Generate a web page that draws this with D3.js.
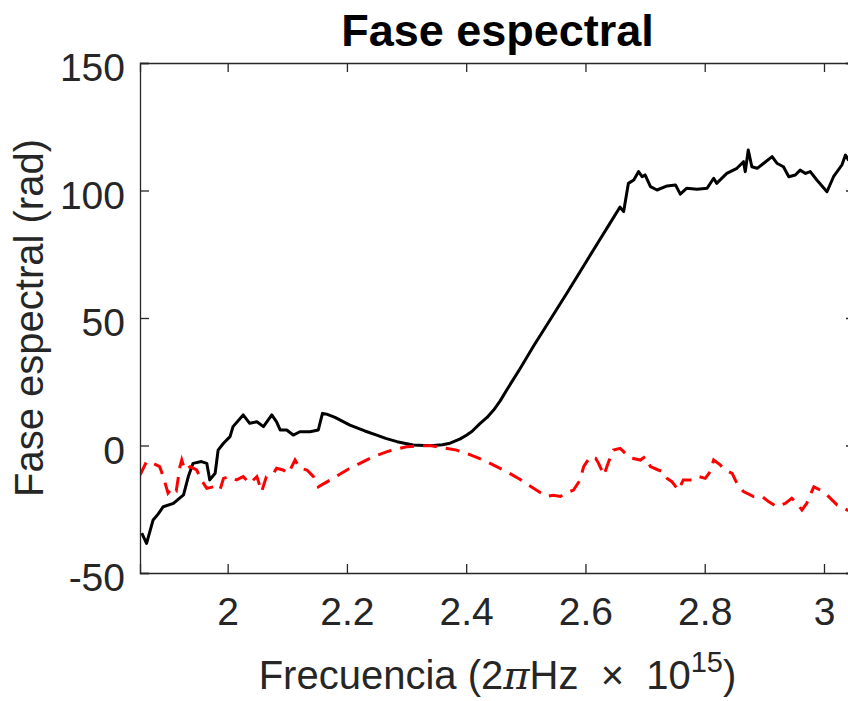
<!DOCTYPE html>
<html><head><meta charset="utf-8">
<script src="https://cdn.jsdelivr.net/npm/d3@7"></script>
<style>html,body{margin:0;padding:0;background:#fff;overflow:hidden}</style>
</head><body><div id="chart"></div>
<script>
const title = "Fase espectral";
const xLabelParts = ["Frecuencia (2", "π", "Hz \u00A0×\u00A0 10", "15", ")"];
const yLabel = "Fase espectral (rad)";
const xTicks = [2, 2.2, 2.4, 2.6, 2.8, 3];
const yTicks = [-50, 0, 50, 100, 150];
const xDomain = [1.853, 3.052];
const yDomain = [-50, 150];

const blackFreq = [1.856,1.864,1.875,1.883,1.892,1.909,1.926,1.934,1.942,1.956,1.965,1.970,1.979,1.984,1.993,2.004,2.009,2.026,2.037,2.049,2.060,2.074,2.082,2.088,2.099,2.110,2.121,2.138,2.152,2.159,2.166,2.180,2.205,2.230,2.250,2.265,2.284,2.311,2.330,2.345,2.360,2.373,2.390,2.401,2.410,2.423,2.435,2.446,2.457,2.468,2.490,2.513,2.540,2.569,2.600,2.625,2.641,2.658,2.664,2.672,2.681,2.689,2.695,2.700,2.709,2.720,2.737,2.751,2.759,2.770,2.787,2.804,2.815,2.820,2.837,2.854,2.865,2.868,2.873,2.879,2.888,2.899,2.913,2.921,2.932,2.941,2.952,2.960,2.969,2.977,2.988,3.005,3.016,3.030,3.036,3.041,3.061];
const blackPhase = [-34.4,-38.4,-29.2,-27,-24,-22.7,-19.4,-12.2,-7,-6.3,-7,-13.5,-10.9,-1.8,0.9,3.5,7.4,12,8.7,9.3,7.4,12,9.3,6.1,6.1,4.1,5.4,5.4,6.1,12.6,12.3,11.0,8.0,5.7,4.1,2.8,1.5,0.2,0,0,0.3,0.9,2.6,4.1,5.6,8.6,11.0,13.9,17.5,21.8,30.0,39.0,49.0,59.8,71.6,81.1,87.1,93.5,91.7,102.8,104.1,107.4,105.4,106.1,101.5,100.2,101.8,102.2,98.6,100.9,100.5,100.9,104.8,102.8,106.7,108.7,111.3,107.4,115.9,109.3,108.7,110.7,113.3,110.7,109.3,105.4,106.1,108,106.7,107.4,104.1,99.5,105.4,110,113.9,112,110];

const redFreq = [1.853,1.864,1.875,1.886,1.892,1.900,1.909,1.914,1.920,1.923,1.928,1.937,1.948,1.956,1.965,1.976,1.987,1.993,2.004,2.015,2.026,2.037,2.049,2.057,2.065,2.077,2.082,2.093,2.102,2.113,2.121,2.133,2.144,2.152,2.172,2.202,2.244,2.270,2.300,2.339,2.384,2.405,2.429,2.468,2.490,2.513,2.535,2.546,2.558,2.568,2.580,2.591,2.597,2.608,2.617,2.622,2.631,2.639,2.647,2.658,2.664,2.669,2.678,2.692,2.700,2.709,2.722,2.731,2.737,2.745,2.756,2.764,2.781,2.790,2.801,2.809,2.815,2.826,2.834,2.846,2.854,2.865,2.882,2.896,2.907,2.921,2.935,2.946,2.955,2.963,2.971,2.977,2.983,2.994,3.005,3.022,3.039,3.061];
const redPhase = [-11.6,-6.3,-7,-8.3,-12.2,-18.7,-16.2,-17.5,-8.3,-5.7,-9.6,-8.3,-9.6,-13.5,-16.8,-16.2,-17.5,-12.9,-12.2,-13.5,-12.2,-14.8,-12.2,-18.1,-12.2,-10.9,-8.9,-9.6,-10.9,-5.7,-8.9,-9.6,-12.2,-16.2,-13.5,-9.3,-4.4,-2.2,-0.5,0,-1.8,-3.5,-5.7,-10.3,-13.2,-16.8,-20,-19.5,-20,-18.5,-17.5,-13.5,-8.3,-4.4,-5,-7,-11.6,-6.3,-1.8,-1.1,-2.4,-3.7,-5,-5.7,-4.4,-8.3,-9.6,-10.3,-12.9,-14.2,-17.5,-13.5,-13.5,-12.2,-12.9,-10.3,-5.7,-7.6,-9.6,-10.9,-14.8,-18.1,-20,-20,-22,-24,-22.7,-20.7,-22.7,-25.3,-22.7,-19.4,-16.2,-17.5,-19.4,-23.3,-25.3,-26];

const W = 848, H = 701;
const m = {left: 140, top: 63};
const pw = 715, ph = 510;
const font = "'Liberation Sans', Arial, Helvetica, sans-serif";
const axisColor = "#262626";

const svg = d3.select("#chart").append("svg").attr("width", W).attr("height", H)
  .style("font-family", font);

const x = d3.scaleLinear().domain(xDomain).range([m.left, m.left + pw]);
const y = d3.scaleLinear().domain(yDomain).range([m.top + ph, m.top]);

svg.append("defs").append("clipPath").attr("id", "clip")
  .append("rect").attr("x", m.left).attr("y", m.top).attr("width", pw).attr("height", ph);

const plot = svg.append("g").attr("clip-path", "url(#clip)");
const line = d3.line().x(d => x(d[0])).y(d => y(d[1]));

plot.append("path").datum(blackFreq.map((f, i) => [f, blackPhase[i]]))
  .attr("d", line).attr("fill", "none").attr("stroke", "#000")
  .attr("stroke-width", 3).attr("stroke-linejoin", "round");

plot.append("path").datum(redFreq.map((f, i) => [f, redPhase[i]]))
  .attr("d", line).attr("fill", "none").attr("stroke", "#ff0000")
  .attr("stroke-width", 3).attr("stroke-dasharray", "14,9");

const tickLen = 9;
const fmt = d => String(d);
const gx = svg.append("g").attr("transform", `translate(0,${m.top + ph})`)
  .call(d3.axisBottom(x).tickValues(xTicks).tickSize(-tickLen).tickPadding(24).tickFormat(fmt));
const gxt = svg.append("g").attr("transform", `translate(0,${m.top})`)
  .call(d3.axisTop(x).tickValues(xTicks).tickSize(-tickLen).tickFormat(""));
const gy = svg.append("g").attr("transform", `translate(${m.left},0)`)
  .call(d3.axisLeft(y).tickValues(yTicks).tickSize(-tickLen).tickPadding(15).tickFormat(fmt));
const gyr = svg.append("g").attr("transform", `translate(${m.left + pw},0)`)
  .call(d3.axisRight(y).tickValues(yTicks).tickSize(-tickLen).tickFormat(""));

[gx, gxt, gy, gyr].forEach(g => {
  g.selectAll("path.domain").attr("stroke", axisColor).attr("stroke-width", 1.3);
  g.selectAll(".tick line").attr("stroke", axisColor).attr("stroke-width", 1.3);
  g.selectAll(".tick text").attr("fill", axisColor).style("font-size", "39px").style("font-family", font);
});
gx.selectAll(".tick text").attr("dy", "0.71em");
gy.selectAll(".tick text").attr("dy", "0.45em");

svg.append("text").attr("x", m.left + pw / 2).attr("y", 46)
  .attr("text-anchor", "middle").style("font-size", "45px").style("font-weight", "bold")
  .attr("fill", "#000").text(title);

const xl = svg.append("text").attr("x", m.left + pw / 2).attr("y", 689)
  .attr("text-anchor", "middle").style("font-size", "40px").attr("fill", axisColor);
xl.append("tspan").text(xLabelParts[0]);
xl.append("tspan").style("font-style", "italic").style("font-family", "'DejaVu Serif', serif").text(xLabelParts[1]);
xl.append("tspan").text(xLabelParts[2]);
xl.append("tspan").attr("dy", -17).style("font-size", "29px").text(xLabelParts[3]);
xl.append("tspan").attr("dy", 17).text(xLabelParts[4]);

svg.append("text").attr("transform", `translate(43,${m.top + ph / 2}) rotate(-90)`)
  .attr("text-anchor", "middle").style("font-size", "40px").attr("fill", axisColor).text(yLabel);
</script></body></html>
